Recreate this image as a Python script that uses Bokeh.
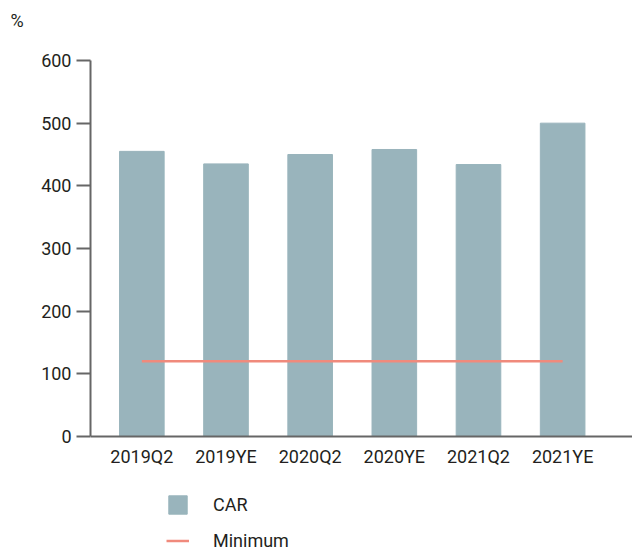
from bokeh.plotting import figure
from bokeh.models import Range1d, FixedTicker, Legend, LegendItem, Title
from bokeh.embed import file_html
from bokeh.resources import INLINE

categories = ["2019Q2", "2019YE", "2020Q2", "2020YE", "2021Q2", "2021YE"]
car = [455, 435, 450, 458, 434, 500]
minimum = [120, 120, 120, 120, 120, 120]
y_ticks = [0, 100, 200, 300, 400, 500, 600]

FONT = "Roboto"
TXT = "#231F20"
AX = "#666666"
x_idx = list(range(len(categories)))

p = figure(width=632, height=552, output_backend="svg", toolbar_location=None,
           x_range=Range1d(-0.61, 5.83), y_range=Range1d(-185.1, 639.9),
           min_border_left=90, min_border_right=0, min_border_top=35, min_border_bottom=0)
p.outline_line_color = None
p.grid.visible = False

p.title = Title(text="%", align="left", offset=-80, text_font=FONT,
                text_font_size="18px", text_font_style="normal", text_color=TXT)

bars = p.vbar(x=x_idx, top=car, width=0.53, color="#99B4BC")
line = p.line(x=x_idx, y=minimum, line_color="#F08A7C", line_width=2.5)

p.xaxis.fixed_location = 0
p.xaxis.ticker = FixedTicker(ticks=x_idx)
p.xaxis.major_label_overrides = {i: c for i, c in enumerate(categories)}
p.xaxis.major_tick_line_color = None
p.xaxis.minor_tick_line_color = None
p.xaxis.major_label_standoff = 3
p.yaxis.bounds = (0, 600)
p.yaxis.ticker = FixedTicker(ticks=y_ticks)
p.yaxis.major_tick_out = 14
p.yaxis.major_tick_in = 0
p.yaxis.minor_tick_line_color = None
p.yaxis.major_label_standoff = 5
p.yaxis.major_tick_line_color = AX
p.yaxis.major_tick_line_width = 2
for ax in (p.xaxis, p.yaxis):
    ax.axis_line_color = AX
    ax.axis_line_width = 2
    ax.major_label_text_font = FONT
    ax.major_label_text_font_size = "18px"
    ax.major_label_text_color = TXT

legend = Legend(items=[LegendItem(label="CAR", renderers=[bars]),
                       LegendItem(label="Minimum", renderers=[line])],
                location=(76, 0), glyph_width=23, glyph_height=23,
                label_standoff=24, spacing=13, padding=0, margin=0,
                border_line_color=None, background_fill_alpha=0,
                label_text_font=FONT, label_text_font_size="18px", label_text_color=TXT)
p.add_layout(legend, "center")

open("out.html", "w").write(file_html(p, INLINE))
